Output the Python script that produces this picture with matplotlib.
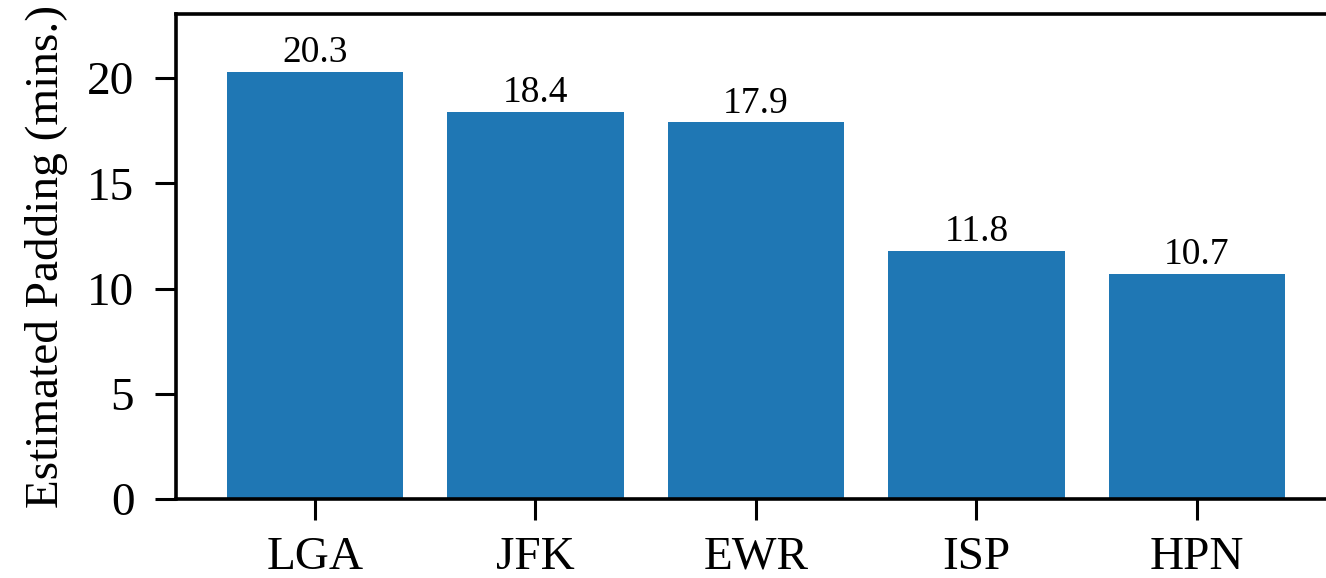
import matplotlib
matplotlib.use('Agg')
import matplotlib.pyplot as plt
import numpy as np

# Data
airports = ['LGA', 'JFK', 'EWR', 'ISP', 'HPN']
padding = [20.3, 18.4, 17.9, 11.8, 10.7]

plt.rcParams['font.family'] = ['Liberation Serif', 'DejaVu Serif']

fig = plt.figure(figsize=(13.26, 5.78), dpi=100)
# the original image is cropped on the right, so the axes run past the figure edge
ax = fig.add_axes([0.1327, 0.1367, 0.883, 0.8391])

x = np.arange(len(airports))
bars = ax.bar(x, padding, width=0.8, color='#1f77b4')
ax.bar_label(bars, labels=[f'{v:.1f}' for v in padding], fontsize=27, padding=1)

ax.set_xticks(x)
ax.set_xticklabels(airports)
ax.set_xlim(-0.63, 4.68)
ax.set_ylim(0, 23.05)
ax.set_yticks([0, 5, 10, 15, 20])
ax.set_ylabel('Estimated Padding (mins.)', fontsize=34, labelpad=14)

ax.tick_params(axis='both', labelsize=34, length=15, width=2.2)
ax.tick_params(axis='y', pad=15)
ax.tick_params(axis='x', pad=12)
for side in ['left', 'bottom', 'top']:
    ax.spines[side].set_linewidth(2.6)
ax.spines['right'].set_visible(False)

plt.savefig('out.png', dpi=100)
plt.close()
